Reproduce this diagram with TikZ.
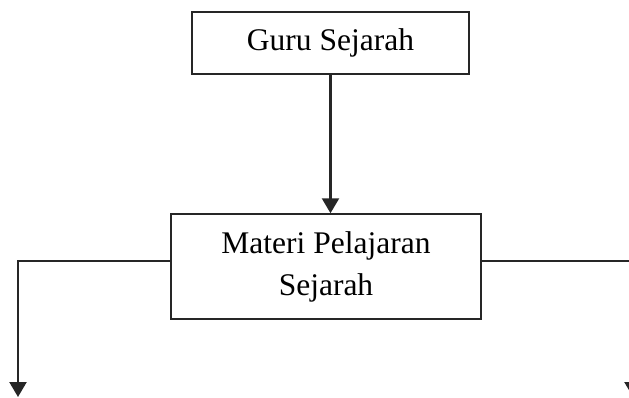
\documentclass[tikz,border=0pt]{standalone}
\usepackage{fontspec}
\setmainfont{Liberation Serif}
\usetikzlibrary{arrows.meta}
\begin{document}
\begin{tikzpicture}[x=1pt,y=-1pt,
  box/.style={draw=black!85, line width=1.5pt, inner sep=0pt, align=center,
              font=\fontsize{31.5}{42}\selectfont},
  link/.style={draw=black!85, line width=2.4pt, line join=miter,
               -{Triangle[width=17pt,length=15pt]}}]
\useasboundingbox (0,0) rectangle (629,397);

% the two boxes
\node[box, minimum width=277pt, minimum height=62pt] (guru) at (330.5,43) {Guru Sejarah};
\node[box, minimum width=310pt, minimum height=105pt] (materi) at (326,266.5) {Materi Pelajaran\\Sejarah};

% turning points and free ends of the side branches
\coordinate (lturn) at (18,261);
\coordinate (lend)  at (18,397);
\coordinate (rturn) at (633,261);
\coordinate (rend)  at (633,397);

% connectors
\draw[link] (guru.south) -- (guru.south |- materi.north);
\draw[link] (materi.west |- lturn) -- (lturn) -- (lend);
\draw[link] (materi.east |- rturn) -- (rturn) -- (rend);
\end{tikzpicture}
\end{document}
